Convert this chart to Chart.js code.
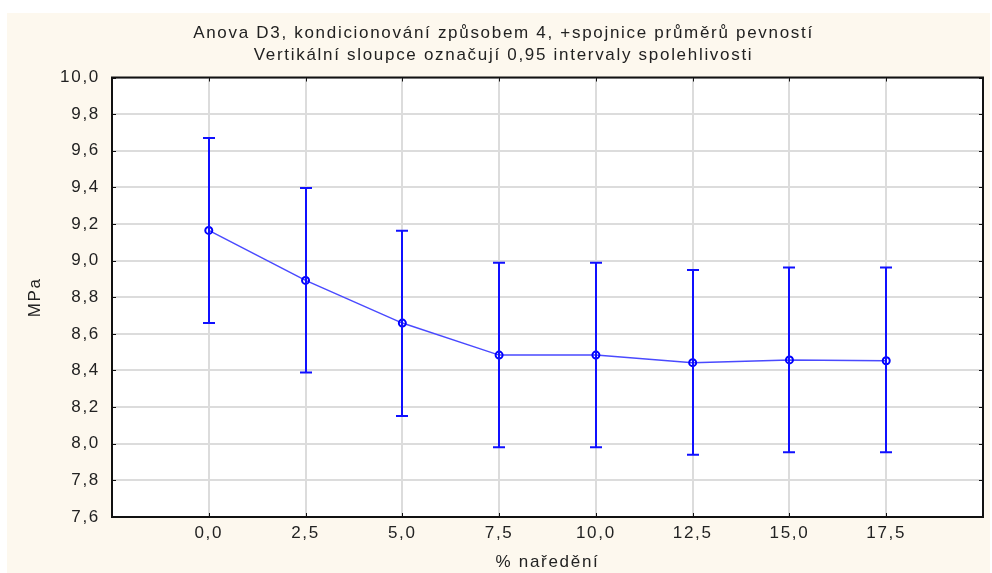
<!DOCTYPE html>
<html>
<head>
<meta charset="utf-8">
<script src="https://cdn.jsdelivr.net/npm/chart.js@4/dist/chart.umd.min.js"></script>
<style>
  html, body { margin: 0; padding: 0; background: #ffffff; }
  #wrap { width: 992px; height: 573px; }
</style>
</head>
<body>
<div id="wrap"><canvas id="anova"></canvas></div>
<script>
// % naředění, průměry pevnosti a 0,95 intervaly spolehlivosti
var dilution = [0, 2.5, 5, 7.5, 10, 12.5, 15, 17.5];
var means    = [9.165, 8.892, 8.659, 8.484, 8.484, 8.443, 8.458, 8.453];
var upper    = [9.670, 9.397, 9.163, 8.989, 8.989, 8.949, 8.963, 8.963];
var lower    = [8.660, 8.389, 8.152, 7.981, 7.981, 7.940, 7.953, 7.953];
var xTicks   = [0, 2.5, 5, 7.5, 10, 12.5, 15, 17.5];

var points = [];
for (var i in dilution) {
  points.push({ x: dilution[i], y: means[i] });
}

function comma(v) {
  return Number(v).toFixed(1).replace('.', ',');
}

// wider text, set before the layout measures labels
var spacing = {
  id: 'spacing',
  beforeInit: function(chart) { chart.ctx.letterSpacing = '1.7px'; },
  beforeUpdate: function(chart) { chart.ctx.letterSpacing = '1.7px'; }
};

// cream page behind the chart
var background = {
  id: 'background',
  beforeDraw: function(chart) {
    var c = chart.ctx;
    c.save();
    c.fillStyle = '#fdf8ee';
    c.fillRect(7, 13, chart.width - 9, chart.height - 13);
    var a = chart.chartArea;
    c.fillStyle = '#ffffff';
    c.fillRect(a.left, a.top, a.right - a.left, a.bottom - a.top);
    c.restore();
  }
};

// vertical interval bars with caps
var errorBars = {
  id: 'errorBars',
  afterDatasetsDraw: function(chart) {
    var c = chart.ctx;
    var xs = chart.scales.x, ys = chart.scales.y;
    c.save();
    c.strokeStyle = '#1010ff';
    c.lineWidth = 2;
    for (var i in dilution) {
      var px = Math.round(xs.getPixelForValue(dilution[i]));
      var top = ys.getPixelForValue(upper[i]);
      var bot = ys.getPixelForValue(lower[i]);
      c.beginPath();
      c.moveTo(px, top); c.lineTo(px, bot);
      c.moveTo(px - 6, top); c.lineTo(px + 6, top);
      c.moveTo(px - 6, bot); c.lineTo(px + 6, bot);
      c.stroke();
    }
    c.restore();
  }
};

// black frame round the plot with short inward ticks
var frame = {
  id: 'frame',
  afterDraw: function(chart) {
    var c = chart.ctx, a = chart.chartArea;
    var xs = chart.scales.x, ys = chart.scales.y;
    c.save();
    c.strokeStyle = '#111111';
    c.lineWidth = 2;
    c.strokeRect(a.left, a.top, a.right - a.left, a.bottom - a.top);
    c.lineWidth = 1;
    c.beginPath();
    xs.ticks.forEach(function(t) {
      var px = Math.round(xs.getPixelForValue(t.value)) + 0.5;
      c.moveTo(px, a.top); c.lineTo(px, a.top + 4);
      c.moveTo(px, a.bottom); c.lineTo(px, a.bottom - 4);
    });
    ys.ticks.forEach(function(t) {
      var py = Math.round(ys.getPixelForValue(t.value)) + 0.5;
      c.moveTo(a.left, py); c.lineTo(a.left + 4, py);
      c.moveTo(a.right, py); c.lineTo(a.right - 4, py);
    });
    c.stroke();
    c.restore();
  }
};

var font = { family: 'Arial, "Liberation Sans", sans-serif', size: 17 };
Chart.defaults.color = '#222222';
Chart.defaults.font.family = font.family;

var ctx = document.getElementById('anova');

var chart = new Chart(ctx, {
  type: 'line',
  data: {
    datasets: [{
      label: 'MPa',
      data: points,
      borderColor: '#4a4aff',
      borderWidth: 1.5,
      backgroundColor: 'rgba(0,0,0,0)',
      pointBorderColor: '#0000ff',
      pointBorderWidth: 2,
      pointBackgroundColor: 'rgba(0,0,0,0)',
      pointRadius: 3.5,
      tension: 0,
      fill: false
    }]
  },
  options: {
    responsive: true,
    maintainAspectRatio: false,
    animation: { duration: 0 },
    layout: { padding: { top: 13, left: 24, right: 9, bottom: 0 } },
    plugins: {
      legend: { display: false },
      tooltip: { enabled: false },
      title: {
        display: true,
        text: ['Anova D3, kondicionování způsobem 4, +spojnice průměrů pevností',
               'Vertikální sloupce označují 0,95 intervaly spolehlivosti'],
        font: { size: 17, weight: 'normal', lineHeight: 1.25 },
        color: '#222222',
        padding: { top: 10, bottom: 12 }
      }
    },
    scales: {
      x: {
        type: 'linear',
        min: -2.5,
        max: 20,
        afterBuildTicks: function(scale) {
          scale.ticks = xTicks.map(function(v) { return { value: v }; });
        },
        afterFit: function(scale) { scale.height = 56; },
        grid: { color: '#dcdcdc', lineWidth: 2, drawTicks: false },
        border: { display: false },
        ticks: {
          font: font,
          padding: 6,
          maxRotation: 0,
          callback: function(v) { return comma(v); }
        },
        title: {
          display: true,
          text: '% naředění',
          font: font,
          padding: { top: 4, bottom: 0 }
        }
      },
      y: {
        min: 7.6,
        max: 10,
        afterFit: function(scale) { scale.width = 88; },
        grid: { color: '#dcdcdc', lineWidth: 2, drawTicks: false },
        border: { display: false },
        ticks: {
          stepSize: 0.2,
          font: font,
          padding: 12,
          callback: function(v) { return comma(v); }
        },
        title: {
          display: true,
          text: 'MPa',
          font: font,
          padding: { top: 1, bottom: 0 }
        }
      }
    }
  },
  plugins: [spacing, background, errorBars, frame]
});
</script>
</body>
</html>
